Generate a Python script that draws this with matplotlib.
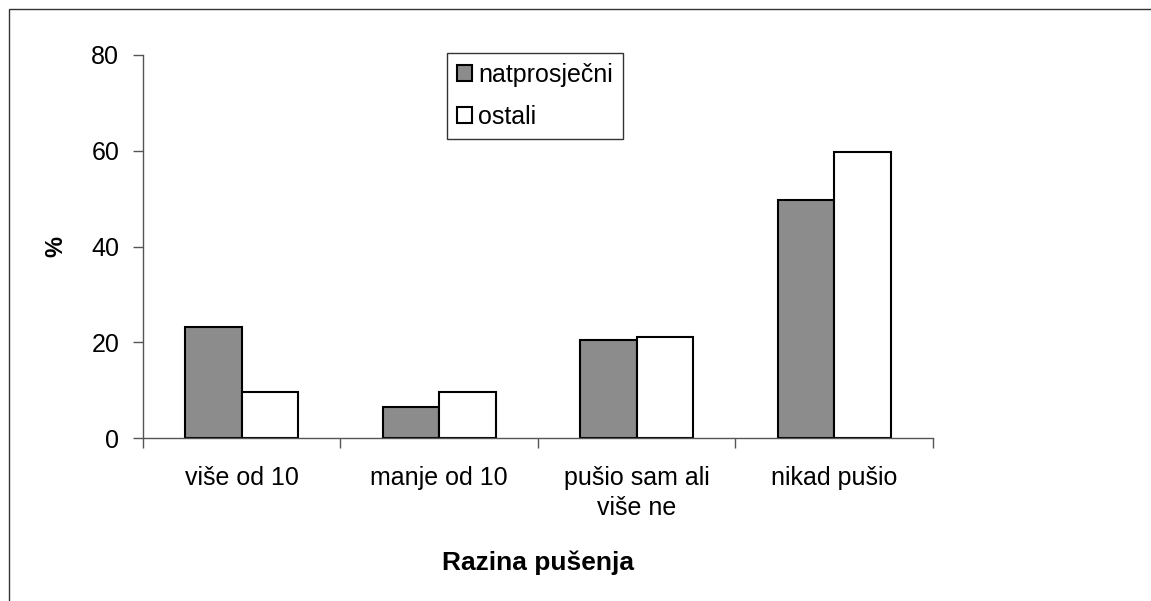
import matplotlib.pyplot as plt
import matplotlib.patches as mpatches
import numpy as np

plt.rcParams['font.family'] = ['Liberation Sans', 'DejaVu Sans']

# podaci
kategorije = ['više od 10', 'manje od 10', 'pušio sam ali\nviše ne', 'nikad pušio']
natprosjecni = [23.2, 6.5, 20.5, 49.7]
ostali = [9.6, 9.6, 21.0, 59.8]

fig = plt.figure(figsize=(11.51, 6.01), dpi=100)
ax = fig.add_axes([0.1242, 0.2712, 0.6864, 0.6373])

x = np.arange(len(kategorije))
w = 0.286
ax.bar(x - w / 2, natprosjecni, w, color='#8c8c8c', edgecolor='black', linewidth=1.5, label='natprosječni')
ax.bar(x + w / 2, ostali, w, color='white', edgecolor='black', linewidth=1.5, label='ostali')

ax.set_xlim(-0.5, len(kategorije) - 0.5)
ax.set_ylim(0, 80)
ax.set_yticks(np.arange(0, 81, 20))

# kvačice na granicama kategorija, oznake u sredini
ax.set_xticks(np.arange(-0.5, len(kategorije), 1.0))
ax.set_xticklabels([])
ax.set_xticks(x, minor=True)
ax.set_xticklabels(kategorije, minor=True, fontsize=18, linespacing=1.35)
ax.tick_params(axis='x', which='major', length=7, width=1, color='#555555')
ax.tick_params(axis='x', which='minor', length=0, pad=20)
ax.tick_params(axis='y', length=7, width=1, color='#555555', labelsize=18, pad=10)

for s in ['top', 'right']:
    ax.spines[s].set_visible(False)
for s in ['left', 'bottom']:
    ax.spines[s].set_color('#555555')
    ax.spines[s].set_linewidth(1)

ax.set_ylabel('%', fontsize=17, fontweight='bold', labelpad=17)
ax.set_xlabel('Razina pušenja', fontsize=19, fontweight='bold', labelpad=22)

leg = ax.legend(loc='upper left', bbox_to_anchor=(0.385, 1.005), fontsize=18, frameon=True,
                fancybox=False, edgecolor='black', handlelength=0.6, handleheight=0.6,
                handletextpad=0.25, borderpad=0.4, labelspacing=0.7, borderaxespad=0)
leg.get_frame().set_linewidth(1)

# okvir slike
fig.patches.append(mpatches.Rectangle((9 / 1151, -0.1), 1.2, 0.1 + 1 - 9 / 601,
                                      transform=fig.transFigure, fill=False,
                                      edgecolor='#333333', linewidth=1))

fig.savefig('out.png', dpi=100)
